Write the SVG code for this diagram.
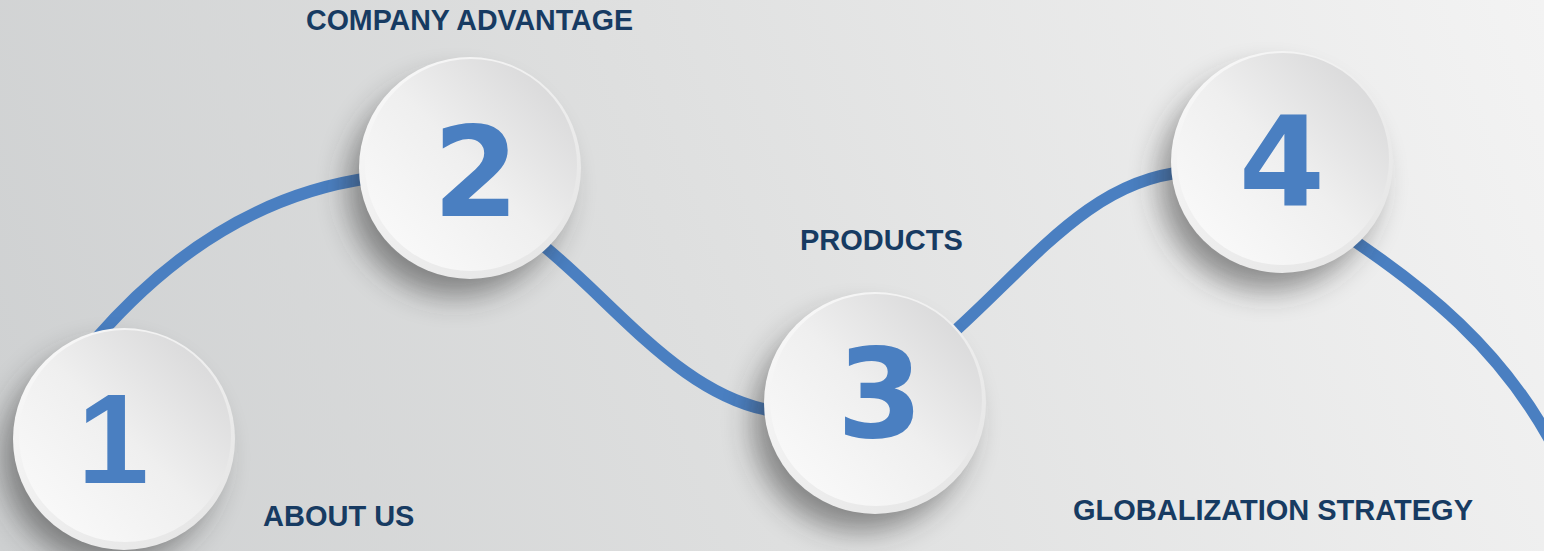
<svg xmlns="http://www.w3.org/2000/svg" width="1544" height="551" viewBox="0 0 1544 551">
  <defs>
    <linearGradient id="bg" gradientUnits="userSpaceOnUse" x1="0" y1="551" x2="1544" y2="0">
      <stop offset="0" stop-color="#ced0d1"/>
      <stop offset="0.45" stop-color="#dedfdf"/>
      <stop offset="1" stop-color="#f3f3f3"/>
    </linearGradient>
    <linearGradient id="face" x1="1" y1="0" x2="0" y2="1">
      <stop offset="0" stop-color="#d3d3d4"/>
      <stop offset="0.5" stop-color="#efefef"/>
      <stop offset="1" stop-color="#fcfcfc"/>
    </linearGradient>
    <linearGradient id="rim" x1="0" y1="0" x2="1" y2="1">
      <stop offset="0" stop-color="#fafafa"/>
      <stop offset="0.5" stop-color="#eeeeee"/>
      <stop offset="1" stop-color="#e4e4e4"/>
    </linearGradient>
    <filter id="blur" x="-50%" y="-50%" width="200%" height="200%">
      <feGaussianBlur stdDeviation="15"/>
    </filter>
    <style>
      .line { fill: none; stroke: #4a7fc1; stroke-width: 12; }
      .shadow { fill: #2a2a2a; opacity: 0.5; filter: url(#blur); }
      .rim { fill: url(#rim); }
      .face { fill: url(#face); }
      .digit { font-family: "DejaVu Sans", sans-serif; font-weight: bold; font-size: 124px; fill: #4a7fc1; text-anchor: middle; }
      .label { font-family: "Liberation Sans", Arial, sans-serif; font-weight: bold; font-size: 29px; fill: #173b62; }
    </style>
  </defs>

  <rect x="0" y="0" width="1544" height="551" fill="url(#bg)"/>

  <g id="connectors">
    <path class="line" d="M 95 340 C 160 265, 250 195, 370 178"/>
    <path class="line" d="M 530 235 C 610 295, 680 400, 780 412"/>
    <path class="line" d="M 945 340 C 1030 265, 1090 180, 1185 172"/>
    <path class="line" d="M 1335 228 C 1430 290, 1500 350, 1550 440"/>
  </g>

  <g id="node-1">
    <circle class="shadow" cx="110" cy="457" r="108"/>
    <circle class="rim" cx="124" cy="439" r="111"/>
    <circle class="face" cx="125" cy="436" r="106"/>
    <text class="digit" style="font-family: 'Liberation Sans', Arial, sans-serif; font-size: 128px;" x="113" y="483">1</text>
    <text class="label" x="263" y="526">ABOUT US</text>
  </g>

  <g id="node-2">
    <circle class="shadow" cx="456" cy="188" r="108"/>
    <circle class="rim" cx="470" cy="168" r="111"/>
    <circle class="face" cx="471" cy="165" r="106"/>
    <text class="digit" x="476" y="216">2</text>
    <text class="label" x="306" y="30" font-size="26" textLength="327" lengthAdjust="spacingAndGlyphs">COMPANY ADVANTAGE</text>
  </g>

  <g id="node-3">
    <circle class="shadow" cx="861" cy="423" r="108"/>
    <circle class="rim" cx="875" cy="403" r="111"/>
    <circle class="face" cx="876" cy="400" r="106"/>
    <text class="digit" x="880" y="437">3</text>
    <text class="label" x="800" y="250">PRODUCTS</text>
  </g>

  <g id="node-4">
    <circle class="shadow" cx="1268" cy="182" r="108"/>
    <circle class="rim" cx="1282" cy="162" r="111"/>
    <circle class="face" cx="1283" cy="159" r="106"/>
    <text class="digit" x="1282" y="206">4</text>
    <text class="label" x="1073" y="520" textLength="400" lengthAdjust="spacingAndGlyphs">GLOBALIZATION STRATEGY</text>
  </g>
</svg>
